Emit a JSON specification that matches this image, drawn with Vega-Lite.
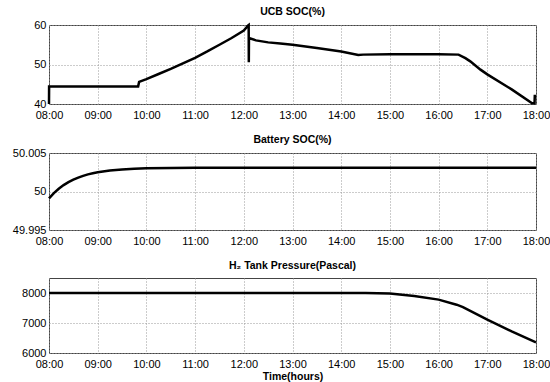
{
  "$schema": "https://vega.github.io/schema/vega-lite/v6.json",
  "background": "white",
  "padding": {"left": 11, "top": 6, "right": 0, "bottom": 0},
  "spacing": 13,
  "config": {
    "font": "Liberation Sans",
    "view": {"stroke": "#444", "strokeWidth": 1},
    "axis": {
      "labelFont": "Liberation Sans",
      "labelFontSize": 11,
      "labelColor": "#000",
      "ticks": false,
      "domain": false,
      "grid": true,
      "gridColor": "#999",
      "gridDash": [1, 2],
      "gridWidth": 1,
      "labelPadding": 3,
      "title": null
    },
    "axisX": {"labelFlush": false, "labelPadding": 5},
    "title": {"fontSize": 10.5, "fontWeight": "bold", "font": "Liberation Sans", "offset": 2, "anchor": "middle", "color": "#000"},
    "line": {"color": "#000", "strokeWidth": 2.5}
  },
  "vconcat": [
    {
      "title": "UCB SOC(%)",
      "width": 487,
      "height": 79,
      "data": {"values": [
        {"t": 8.0, "v": 40}, {"t": 8.002, "v": 44.4}, {"t": 9.83, "v": 44.4}, {"t": 9.85, "v": 45.6},
        {"t": 10.0, "v": 46.3}, {"t": 10.25, "v": 47.6}, {"t": 10.5, "v": 48.9}, {"t": 10.75, "v": 50.3},
        {"t": 11.0, "v": 51.7}, {"t": 11.25, "v": 53.3}, {"t": 11.5, "v": 55.0}, {"t": 11.75, "v": 56.7},
        {"t": 12.0, "v": 58.6}, {"t": 12.09, "v": 59.9}, {"t": 12.1, "v": 60}, {"t": 12.103, "v": 50.6},
        {"t": 12.106, "v": 56.7}, {"t": 12.25, "v": 56.1}, {"t": 12.5, "v": 55.6}, {"t": 12.75, "v": 55.3},
        {"t": 13.0, "v": 55.0}, {"t": 13.5, "v": 54.2}, {"t": 14.0, "v": 53.3}, {"t": 14.35, "v": 52.4},
        {"t": 14.45, "v": 52.5}, {"t": 15.0, "v": 52.6}, {"t": 16.0, "v": 52.6}, {"t": 16.41, "v": 52.5},
        {"t": 16.55, "v": 51.6}, {"t": 16.65, "v": 50.8}, {"t": 16.86, "v": 48.7}, {"t": 17.0, "v": 47.5},
        {"t": 17.5, "v": 43.7}, {"t": 17.92, "v": 40.2}, {"t": 17.97, "v": 40.2}, {"t": 17.975, "v": 42},
        {"t": 18.0, "v": 42}
      ]},
      "mark": {"type": "line"},
      "encoding": {
        "x": {"field": "t", "type": "quantitative", "scale": {"domain": [8, 18], "nice": false, "zero": false},
              "axis": {"values": [8,9,10,11,12,13,14,15,16,17,18], "labelExpr": "(datum.value < 10 ? '0' : '') + datum.value + ':00'"}},
        "y": {"field": "v", "type": "quantitative", "scale": {"domain": [40, 60], "nice": false, "zero": false},
              "axis": {"values": [40, 50, 60]}}
      }
    },
    {
      "title": "Battery SOC(%)",
      "width": 487,
      "height": 77,
      "data": {"values": [
        {"t": 8.0, "v": 49.9991}, {"t": 8.1, "v": 49.99979}, {"t": 8.2, "v": 50.00036}, {"t": 8.3, "v": 50.00083},
        {"t": 8.4, "v": 50.00122}, {"t": 8.5, "v": 50.00154}, {"t": 8.6, "v": 50.00181}, {"t": 8.7, "v": 50.00203},
        {"t": 8.8, "v": 50.00222}, {"t": 8.9, "v": 50.00237}, {"t": 9.0, "v": 50.0025}, {"t": 9.25, "v": 50.00272},
        {"t": 9.5, "v": 50.00286}, {"t": 9.75, "v": 50.00295}, {"t": 10.0, "v": 50.00301}, {"t": 10.5, "v": 50.00306},
        {"t": 11.0, "v": 50.00308}, {"t": 12.0, "v": 50.0031}, {"t": 18.0, "v": 50.0031}
      ]},
      "mark": {"type": "line"},
      "encoding": {
        "x": {"field": "t", "type": "quantitative", "scale": {"domain": [8, 18], "nice": false, "zero": false},
              "axis": {"values": [8,9,10,11,12,13,14,15,16,17,18], "labelExpr": "(datum.value < 10 ? '0' : '') + datum.value + ':00'"}},
        "y": {"field": "v", "type": "quantitative", "scale": {"domain": [49.995, 50.005], "nice": false, "zero": false},
              "axis": {"values": [49.995, 50, 50.005], "labelExpr": "datum.value == 50 ? '50' : format(datum.value, '.3f')"}}
      }
    },
    {
      "title": {"text": "H₂ Tank Pressure(Pascal)", "offset": 7},
      "width": 487,
      "height": 75,
      "data": {"values": [
        {"t": 8.0, "v": 8000}, {"t": 14.5, "v": 8000}, {"t": 15.0, "v": 7980}, {"t": 15.5, "v": 7900},
        {"t": 16.0, "v": 7780}, {"t": 16.37, "v": 7610}, {"t": 16.5, "v": 7530}, {"t": 17.0, "v": 7110},
        {"t": 17.5, "v": 6720}, {"t": 18.0, "v": 6355}
      ]},
      "mark": {"type": "line"},
      "encoding": {
        "x": {"field": "t", "type": "quantitative", "scale": {"domain": [8, 18], "nice": false, "zero": false},
              "axis": {"values": [8,9,10,11,12,13,14,15,16,17,18], "labelExpr": "(datum.value < 10 ? '0' : '') + datum.value + ':00'",
                       "title": "Time(hours)", "titleFontSize": 10.5, "titleFontWeight": "bold", "titlePadding": 2}},
        "y": {"field": "v", "type": "quantitative", "scale": {"domain": [6000, 8500], "nice": false, "zero": false},
              "axis": {"values": [6000, 7000, 8000], "format": "d"}}
      }
    }
  ]
}
